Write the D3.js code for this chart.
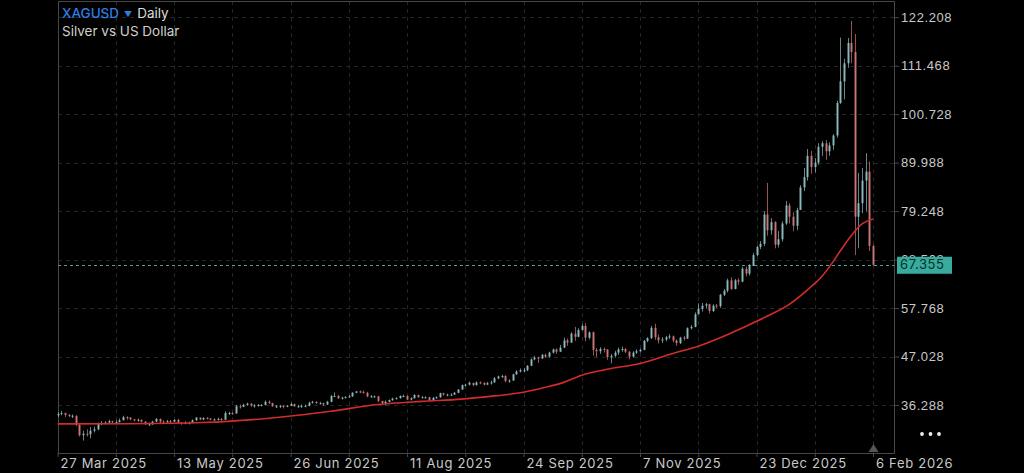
<!DOCTYPE html>
<html>
<head>
<meta charset="utf-8">
<script src="https://cdn.jsdelivr.net/npm/d3@7"></script>
<style>
body { margin: 0; background: #000; }
svg { display: block; font-family: Inter, "Noto Sans", sans-serif; }
</style>
</head>
<body>
<div id="chart"></div>
<script>
// date labels on the bottom axis and the bar index they sit on
var dateLabels = ["27 Mar 2025", "13 May 2025", "26 Jun 2025", "11 Aug 2025",
                  "24 Sep 2025", "7 Nov 2025", "23 Dec 2025", "6 Feb 2026"];
var dateBars = [0, 32, 64, 96, 128, 160, 192, 224];

var priceTicks = [36.288, 47.028, 57.768, 68.508, 79.248, 89.988, 100.728, 111.468, 122.208];

var firstOpen = 34.0;
var closes = [
  34.3, 34.5, 34.1, 33.9, 33.9, 31.9, 29.6, 29.9, 29.8, 30.6,
  30.9, 32.2, 32.3, 32.4, 32.7, 32.5, 32.5, 32.9, 33.6, 33.5,
  33.1, 33.0, 33.0, 32.6, 32.0, 32.0, 32.6, 33.2, 32.6, 32.5,
  32.7, 32.6, 33.0, 32.4, 32.3, 32.3, 32.4, 32.9, 33.5, 33.1,
  33.4, 33.3, 33.1, 33.1, 33.2, 33.0, 34.5, 34.5, 34.4, 36.0,
  35.9, 36.3, 36.6, 36.2, 36.2, 36.3, 36.3, 37.0, 36.7, 36.0,
  36.0, 36.1, 35.9, 36.1, 36.5, 36.0, 36.0, 36.1, 36.1, 36.8,
  37.0, 36.7, 36.7, 36.4, 37.0, 38.3, 38.3, 37.8, 37.9, 38.1,
  38.2, 39.0, 39.3, 39.2, 39.0, 38.2, 38.2, 38.2, 37.2, 36.7,
  37.0, 37.4, 37.7, 37.8, 38.3, 38.3, 37.5, 37.8, 38.5, 38.0,
  38.0, 38.0, 37.3, 37.9, 38.0, 38.9, 38.6, 38.6, 38.6, 39.0,
  39.7, 40.7, 40.8, 41.2, 40.7, 41.3, 41.2, 40.8, 41.1, 41.3,
  42.2, 42.6, 42.7, 41.6, 41.7, 43.1, 43.7, 44.0, 44.0, 45.0,
  46.4, 46.8, 46.6, 47.4, 47.0, 47.9, 48.6, 48.1, 49.0, 50.6,
  50.1, 52.1, 51.4, 52.9, 53.8, 51.2, 52.4, 48.5, 48.2, 48.7,
  48.6, 46.9, 47.2, 47.9, 48.6, 48.7, 48.1, 47.0, 47.9, 48.2,
  48.5, 50.5, 51.1, 53.4, 51.3, 50.6, 50.8, 51.3, 51.5, 50.6,
  50.0, 51.2, 51.0, 53.3, 53.6, 56.4, 57.6, 58.3, 58.6, 57.1,
  58.3, 58.2, 60.7, 61.6, 63.9, 62.0, 63.9, 63.6, 66.5, 65.4,
  67.1, 69.5, 71.3, 72.0, 78.5, 75.0, 76.8, 71.8, 73.0, 76.5,
  80.5, 78.0, 76.0, 79.5, 84.5, 86.8, 91.5, 89.0, 90.0, 93.5,
  94.3, 92.5, 93.8, 96.0, 103.2, 108.0, 112.0, 116.5, 114.5, 78.0,
  81.0, 86.0, 88.0, 71.5, 67.355
];
var highs = [
  34.7, 35.0, 34.6, 34.3, 34.2, 34.0, 32.1, 30.6, 30.9, 31.4,
  31.5, 32.4, 32.7, 32.7, 33.0, 32.8, 32.9, 33.3, 33.9, 33.8,
  33.6, 33.2, 33.3, 33.1, 32.7, 32.4, 32.8, 33.4, 33.3, 32.9,
  33.0, 33.0, 33.1, 33.2, 32.5, 32.7, 32.6, 33.1, 33.6, 33.5,
  33.6, 33.6, 33.4, 33.3, 33.5, 33.4, 34.9, 34.8, 34.7, 36.3,
  36.4, 36.6, 36.8, 36.7, 36.5, 36.5, 36.5, 37.3, 37.3, 36.8,
  36.3, 36.3, 36.2, 36.3, 36.8, 36.6, 36.3, 36.4, 36.4, 37.0,
  37.2, 37.1, 37.0, 36.8, 37.2, 38.5, 39.1, 38.5, 38.1, 38.2,
  38.5, 39.1, 39.4, 39.5, 39.5, 39.2, 38.5, 38.4, 38.3, 37.2,
  37.3, 37.5, 37.9, 38.0, 38.4, 38.6, 38.4, 38.0, 38.7, 38.6,
  38.3, 38.2, 38.1, 38.0, 38.2, 39.0, 39.0, 38.8, 38.9, 39.2,
  39.8, 40.8, 41.0, 41.5, 41.2, 41.5, 41.5, 41.3, 41.4, 41.7,
  42.5, 42.8, 43.0, 42.9, 42.0, 43.2, 44.0, 44.4, 44.5, 45.1,
  46.6, 47.2, 47.0, 47.6, 47.7, 48.1, 48.8, 48.8, 49.6, 51.2,
  51.0, 52.4, 53.6, 53.3, 54.2, 54.4, 52.6, 52.6, 48.9, 49.1,
  49.0, 48.6, 47.6, 48.3, 49.0, 49.2, 48.9, 48.2, 48.2, 48.6,
  48.8, 50.7, 51.3, 53.8, 54.3, 51.9, 51.3, 51.6, 52.0, 51.7,
  50.8, 51.4, 51.6, 53.5, 54.0, 56.8, 58.8, 58.9, 58.9, 58.7,
  58.6, 58.7, 60.9, 62.0, 64.3, 64.6, 64.2, 64.4, 66.9, 67.0,
  67.5, 70.0, 71.6, 72.6, 79.2, 85.5, 77.7, 77.0, 74.8, 77.0,
  81.5, 81.0, 79.0, 80.0, 85.0, 88.8, 93.0, 92.6, 91.0, 94.3,
  94.8, 95.0, 94.5, 96.3, 103.7, 117.7, 113.0, 117.6, 121.4, 118.5,
  87.7, 88.8, 92.1, 90.3, 71.8
];
var lows = [
  33.6, 34.0, 33.6, 33.6, 33.4, 31.6, 29.3, 28.4, 29.3, 28.9,
  30.2, 30.7, 31.8, 32.0, 32.2, 32.1, 32.1, 32.4, 32.9, 33.0,
  32.9, 32.7, 32.6, 32.4, 31.9, 31.7, 31.9, 32.5, 32.3, 32.2,
  32.4, 32.2, 32.5, 32.2, 31.9, 32.0, 32.0, 32.3, 32.8, 32.9,
  32.9, 33.1, 32.9, 32.8, 32.9, 32.8, 33.0, 34.1, 34.1, 34.4,
  35.5, 35.8, 36.1, 35.9, 35.7, 35.9, 36.0, 36.2, 36.5, 35.9,
  35.6, 35.6, 35.5, 35.8, 36.0, 35.9, 35.7, 35.6, 35.8, 36.0,
  36.6, 36.5, 36.4, 36.1, 36.3, 36.9, 38.1, 37.6, 37.5, 37.7,
  37.9, 38.1, 38.9, 38.9, 38.8, 38.0, 37.9, 37.9, 36.9, 36.4,
  36.2, 36.9, 37.2, 37.5, 37.7, 38.0, 37.4, 37.3, 37.7, 37.9,
  37.8, 37.7, 37.1, 37.2, 37.7, 37.9, 38.4, 38.2, 38.3, 38.5,
  38.9, 39.7, 40.4, 40.6, 40.4, 40.6, 40.9, 40.6, 40.7, 40.8,
  41.2, 42.0, 42.3, 41.3, 41.2, 41.7, 42.9, 43.5, 43.6, 43.8,
  44.9, 46.2, 45.6, 46.5, 46.7, 46.8, 47.7, 47.6, 48.0, 48.9,
  49.4, 50.1, 50.5, 51.3, 52.8, 50.4, 50.8, 47.2, 46.9, 47.6,
  47.9, 46.3, 45.5, 46.8, 47.4, 48.1, 47.8, 46.4, 46.8, 47.6,
  47.9, 48.4, 50.2, 50.9, 50.7, 49.9, 50.0, 50.4, 50.9, 50.2,
  49.4, 49.8, 50.6, 50.9, 53.0, 53.5, 56.4, 57.0, 57.7, 56.6,
  56.9, 57.8, 57.8, 60.4, 61.2, 61.8, 61.9, 62.9, 63.5, 64.8,
  65.0, 67.1, 69.2, 70.8, 71.5, 73.8, 74.0, 71.0, 71.2, 72.5,
  76.2, 76.5, 74.8, 75.0, 79.5, 83.7, 86.0, 87.5, 87.8, 89.5,
  91.5, 90.6, 91.5, 92.8, 95.5, 103.0, 104.0, 111.0, 112.0, 69.5,
  71.0, 78.8, 79.2, 70.4, 67.2
];

// moving average
var maBars   = [0, 20, 40, 56, 66, 75, 88, 100, 111, 120, 128, 134, 139, 144, 151,
                160, 169, 176, 183, 189, 195, 201, 206, 210, 213, 215, 218, 221, 224];
var maValues = [32.1, 32.15, 32.4, 33.2, 34.0, 34.9, 36.4, 37.1, 37.6, 38.3, 39.1, 40.2, 41.3, 42.9, 44.2,
                45.5, 47.7, 49.3, 51.5, 53.7, 56.0, 58.6, 61.8, 64.8, 68.0, 70.4, 73.8, 76.4, 77.5];

var lastPrice = 67.355;

var W = 1024, H = 473;
var plot = {left: 58, right: 894, top: 1, bottom: 453};

var bull = "#8ebfc3", bear = "#d37878";
var gridColor = "#262626", frameColor = "#484848", textColor = "#c9c9c9";

var svg = d3.select("#chart").append("svg")
    .attr("width", W)
    .attr("height", H)
    .style("background", "#000");

var x = d3.scaleLinear().domain([0, 224]).range([57.6, 873]);
var y = d3.scaleLinear().domain([36.288, 122.208]).range([405, 17.2]);

// grid
var gridBars = d3.range(0, 225, 16);
svg.append("g").selectAll("line")
    .data(gridBars)
  .enter().append("line")
    .attr("x1", function(d){ return Math.round(x(d)) + 0.5 })
    .attr("x2", function(d){ return Math.round(x(d)) + 0.5 })
    .attr("y1", plot.top)
    .attr("y2", plot.bottom)
    .attr("stroke", gridColor)
    .attr("stroke-dasharray", "4,4");

svg.append("g").selectAll("line")
    .data(priceTicks)
  .enter().append("line")
    .attr("x1", plot.left)
    .attr("x2", plot.right)
    .attr("y1", function(d){ return Math.round(y(d)) + 0.5 })
    .attr("y2", function(d){ return Math.round(y(d)) + 0.5 })
    .attr("stroke", gridColor)
    .attr("stroke-dasharray", "4,4");

// frame
svg.append("path")
    .attr("d", "M" + (plot.left + 0.5) + "," + plot.bottom + "V" + (plot.top + 0.5) +
               "H" + (plot.right + 0.5) + "V" + (plot.bottom + 0.5) + "H" + plot.left)
    .attr("fill", "none")
    .attr("stroke", frameColor);

// current price line
svg.append("line")
    .attr("x1", plot.left)
    .attr("x2", plot.right)
    .attr("y1", Math.round(y(lastPrice)) + 0.5)
    .attr("y2", Math.round(y(lastPrice)) + 0.5)
    .attr("stroke", "#3fa9a2")
    .attr("stroke-dasharray", "3,3");

// bars
var bars = closes.map(function(c, i){
  var o = i == 0 ? firstOpen : closes[i - 1];
  return {i: i, o: o, c: c,
          h: Math.max(highs[i], o, c),
          l: Math.min(lows[i], o, c)};
});

var barG = svg.append("g");
barG.selectAll(".wick")
    .data(bars)
  .enter().append("line")
    .attr("class", "wick")
    .attr("x1", function(d){ return Math.round(x(d.i)) + 0.5 })
    .attr("x2", function(d){ return Math.round(x(d.i)) + 0.5 })
    .attr("y1", function(d){ return y(d.h) })
    .attr("y2", function(d){ return y(d.l) })
    .attr("stroke", function(d){ return d.c >= d.o ? bull : bear })
    .attr("stroke-opacity", 0.7);

barG.selectAll(".body")
    .data(bars)
  .enter().append("rect")
    .attr("class", "body")
    .attr("x", function(d){ return Math.round(x(d.i)) - 0.5 })
    .attr("width", 2)
    .attr("y", function(d){ return y(Math.max(d.o, d.c)) })
    .attr("height", function(d){ return Math.max(1, Math.abs(y(d.o) - y(d.c))) })
    .attr("fill", function(d){ return d.c >= d.o ? bull : bear })
    .attr("fill-opacity", 0.9);

// moving average
var maLine = d3.line()
    .x(function(d, k){ return x(maBars[k]) })
    .y(function(d){ return y(d) })
    .curve(d3.curveMonotoneX);

svg.append("path")
    .datum(maValues)
    .attr("d", maLine)
    .attr("fill", "none")
    .attr("stroke", "#d42b2b")
    .attr("stroke-width", 1.6);

// right price axis (68.508 ends up mostly under the price tag, as in the app)
var yAxis = svg.append("g")
    .attr("transform", "translate(" + plot.right + ",0)")
    .call(d3.axisRight(y).tickValues(priceTicks).tickFormat(d3.format(".3f")).tickSize(5).tickPadding(2));
yAxis.select(".domain").remove();
yAxis.selectAll("line").attr("stroke", frameColor);
yAxis.selectAll("text")
    .attr("fill", textColor)
    .style("font-size", "13px")
    .style("letter-spacing", "0.6px");

// bottom date axis
var xAxis = svg.append("g")
    .attr("transform", "translate(0," + plot.bottom + ")")
    .call(d3.axisBottom(x).tickValues(gridBars).tickSize(4).tickFormat(""));
xAxis.select(".domain").remove();
xAxis.selectAll("line").attr("stroke", frameColor);

svg.append("g").selectAll("text")
    .data(dateBars)
  .enter().append("text")
    .attr("x", function(d){ return x(d) + 3 })
    .attr("y", 468)
    .attr("fill", textColor)
    .style("font-size", "13px")
    .style("letter-spacing", "0.7px")
    .text(function(d, k){ return dateLabels[k] });

// price tag
var tagY = y(lastPrice);
svg.append("rect")
    .attr("x", 897)
    .attr("y", tagY - 8)
    .attr("width", 55)
    .attr("height", 17)
    .attr("fill", "#38ab9e");
svg.append("text")
    .attr("x", 900)
    .attr("y", tagY + 4.5)
    .attr("fill", "#06302b")
    .style("font-size", "13px")
    .style("letter-spacing", "0.6px")
    .text(d3.format(".3f")(lastPrice));

// last bar marker
var mx = Math.round(x(224)) + 0.5;
svg.append("path")
    .attr("d", "M" + (mx - 5) + "," + (plot.bottom - 1) + "L" + mx + "," + (plot.bottom - 9) + "L" + (mx + 5) + "," + (plot.bottom - 1) + "Z")
    .attr("fill", "#555");

// menu dots
svg.append("g").selectAll("circle")
    .data([922, 930.5, 939])
  .enter().append("circle")
    .attr("cx", function(d){ return d })
    .attr("cy", 434)
    .attr("r", 1.9)
    .attr("fill", "#eee");

// title
var title = svg.append("text")
    .attr("x", 62)
    .attr("y", 18)
    .style("font-size", "13.5px");
title.append("tspan").attr("fill", "#2f7de1").style("font-weight", 500).text("XAGUSD");
title.append("tspan").attr("fill", "#2f7de1").attr("dx", 5).attr("dy", -1).style("font-size", "8px").text("▼");
title.append("tspan").attr("fill", "#dcdcdc").attr("dx", 5).attr("dy", 1).text("Daily");

svg.append("text")
    .attr("x", 62)
    .attr("y", 36)
    .attr("fill", "#cfcfcf")
    .style("font-size", "13.5px")
    .text("Silver vs US Dollar");
</script>
</body>
</html>
